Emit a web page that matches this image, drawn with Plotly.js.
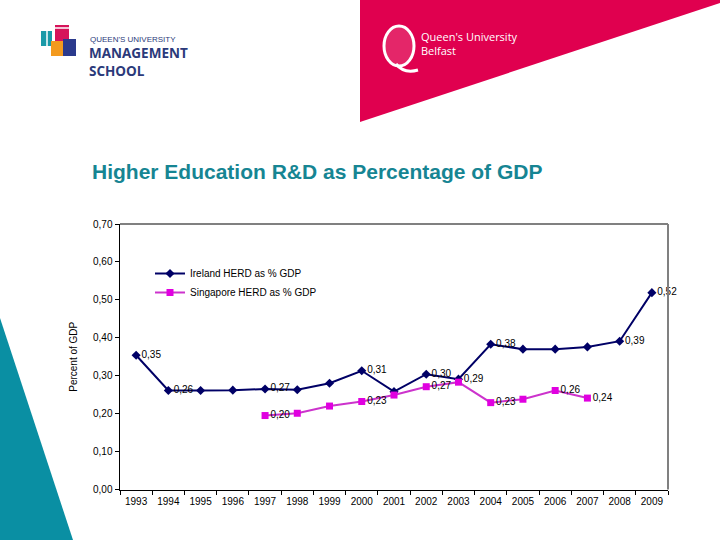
<!DOCTYPE html>
<html>
<head>
<meta charset="utf-8">
<script src="https://cdn.plot.ly/plotly-3.0.1.min.js"></script>
<style>html,body{margin:0;padding:0;background:#fff;}#chart{width:720px;height:540px;}</style>
</head>
<body>
<div id="chart"></div>
<script>
var years = ["1993","1994","1995","1996","1997","1998","1999","2000","2001","2002","2003","2004","2005","2006","2007","2008","2009"];
var irelandValues = [0.354,0.261,0.261,0.262,0.265,0.263,0.280,0.313,0.258,0.304,0.291,0.383,0.370,0.370,0.376,0.391,0.519];
var irelandLabels = ["0,35","0,26","","","0,27","","","0,31","","0,30","0,29","0,38","","","","0,39","0,52"];
var singaporeValues = [null,null,null,null,0.195,0.201,0.220,0.232,0.249,0.271,0.283,0.229,0.238,0.261,0.241,null,null];
var singaporeLabels = ["","","","","0,20","","","0,23","","0,27","","0,23","","0,26","0,24","",""];
var yTickValues = [0,0.1,0.2,0.3,0.4,0.5,0.6,0.7];
var yTickLabels = ["0,00","0,10","0,20","0,30","0,40","0,50","0,60","0,70"];

var FONT = "Liberation Sans, Arial, sans-serif";
var W = 720, H = 540;
var L = 120, R = 668, T = 224, B = 489.5;

var traces = [
  {x: years, y: irelandValues, name: "Ireland HERD as % GDP", type: "scatter",
   mode: "lines+markers+text", text: irelandLabels, textposition: "middle right",
   textfont: {family: FONT, size: 10, color: "#000"},
   line: {color: "#000066", width: 2}, marker: {symbol: "diamond", size: 7, color: "#000066"},
   cliponaxis: false},
  {x: years, y: singaporeValues, name: "Singapore HERD as % GDP", type: "scatter",
   mode: "lines+markers+text", text: singaporeLabels, textposition: "middle right",
   textfont: {family: FONT, size: 10, color: "#000"},
   line: {color: "#cc33cc", width: 2}, marker: {symbol: "square", size: 7, color: "#e000e0"},
   connectgaps: false, cliponaxis: false},
  {x: [0], y: [0], xaxis: "x2", yaxis: "y2", mode: "markers", marker: {opacity: 0}, showlegend: false, hoverinfo: "skip"}
];

var shapes = [
  {type: "path", xref: "x2", yref: "y2", path: "M 360 0 L 720 0 L 720 3 L 360 122 Z", fillcolor: "#e0004f", line: {width: 0}, layer: "below"},
  {type: "path", xref: "x2", yref: "y2", path: "M 0 318 L 73 540 L 0 540 Z", fillcolor: "#0a8fa3", line: {width: 0}, layer: "below"},
  {type: "line", xref: "x2", yref: "y2", x0: L, x1: R, y0: T, y1: T, line: {color: "#808080", width: 2}},
  {type: "line", xref: "x2", yref: "y2", x0: R, x1: R, y0: T, y1: B, line: {color: "#808080", width: 2}},
  {type: "rect", xref: "x2", yref: "y2", x0: 41, x1: 52, y0: 31, y1: 46, fillcolor: "#1a9aa8", line: {width: 0}},
  {type: "rect", xref: "x2", yref: "y2", x0: 55, x1: 69, y0: 25, y1: 42, fillcolor: "#d6145a", line: {width: 0}},
  {type: "rect", xref: "x2", yref: "y2", x0: 51, x1: 63, y0: 41, y1: 56, fillcolor: "#f39a1e", line: {width: 0}},
  {type: "rect", xref: "x2", yref: "y2", x0: 63, x1: 76, y0: 39, y1: 56, fillcolor: "#2b3a8c", line: {width: 0}},
  {type: "rect", xref: "x2", yref: "y2", x0: 47, x1: 77, y0: 28, y1: 58, fillcolor: "rgba(0,0,0,0)", line: {color: "#ffffff", width: 1.5}},
  {type: "circle", xref: "x2", yref: "y2", x0: 384, x1: 414, y0: 26, y1: 66, fillcolor: "rgba(255,255,255,0.15)", line: {color: "#ffffff", width: 3}},
  {type: "path", xref: "x2", yref: "y2", path: "M 396 64 Q 404 74 418 70", fillcolor: "rgba(0,0,0,0)", line: {color: "#ffffff", width: 3}}
];

var annotations = [
  {xref: "x2", yref: "y2", x: 88, y: 39, text: "QUEEN'S UNIVERSITY", showarrow: false, xanchor: "left", yanchor: "middle", font: {family: FONT, size: 8, color: "#2b3a7a"}},
  {xref: "x2", yref: "y2", x: 87, y: 62, text: "<b>MANAGEMENT</b><br><b>SCHOOL</b>", showarrow: false, xanchor: "left", yanchor: "middle", align: "left", font: {family: "Open Sans, sans-serif", size: 13.5, color: "#2b3a7a"}},
  {xref: "x2", yref: "y2", x: 419, y: 43, text: "Queen's University<br>Belfast", showarrow: false, xanchor: "left", yanchor: "middle", align: "left", font: {family: "Open Sans, sans-serif", size: 11, color: "#ffffff"}}
];

var layout = {
  width: W, height: H,
  margin: {l: 0, r: 0, t: 0, b: 0, pad: 0},
  paper_bgcolor: "#ffffff", plot_bgcolor: "rgba(0,0,0,0)",
  title: {text: "<b>Higher Education R&D as Percentage of GDP</b>", x: 92 / W, xanchor: "left", xref: "container",
          y: 1 - 172 / H, yanchor: "middle", yref: "container",
          font: {family: FONT, size: 21, color: "#168593"}},
  showlegend: true,
  legend: {x: 150 / W, y: 1 - 259 / H, xanchor: "left", yanchor: "top", bgcolor: "rgba(0,0,0,0)",
           font: {family: FONT, size: 10, color: "#000"}, tracegroupgap: 0},
  xaxis: {domain: [L / W, R / W], type: "category", range: [-0.5, 16.5], autorange: false, tickson: "boundaries",
          ticks: "outside", ticklen: 4, tickangle: 0, ticklabelstandoff: 2,
          tickcolor: "#000", showline: true, linecolor: "#000", linewidth: 1.5, showgrid: false, zeroline: false,
          tickfont: {family: FONT, size: 10, color: "#000"}, fixedrange: true},
  yaxis: {domain: [1 - B / H, 1 - T / H], range: [0, 0.7], tickvals: yTickValues, ticktext: yTickLabels,
          ticks: "outside", ticklen: 4, tickcolor: "#000", showline: true, linecolor: "#000", linewidth: 1.5,
          showgrid: false, zeroline: false, tickfont: {family: FONT, size: 10, color: "#000"},
          title: {text: "Percent of GDP", standoff: 13, font: {family: FONT, size: 10, color: "#000"}}, fixedrange: true},
  xaxis2: {domain: [0, 1], range: [0, W], visible: false, fixedrange: true, anchor: "y2"},
  yaxis2: {domain: [0, 1], range: [H, 0], visible: false, fixedrange: true, anchor: "x2"},
  shapes: shapes,
  annotations: annotations
};

Plotly.newPlot("chart", traces, layout, {displayModeBar: false, staticPlot: true});
</script>
</body>
</html>
